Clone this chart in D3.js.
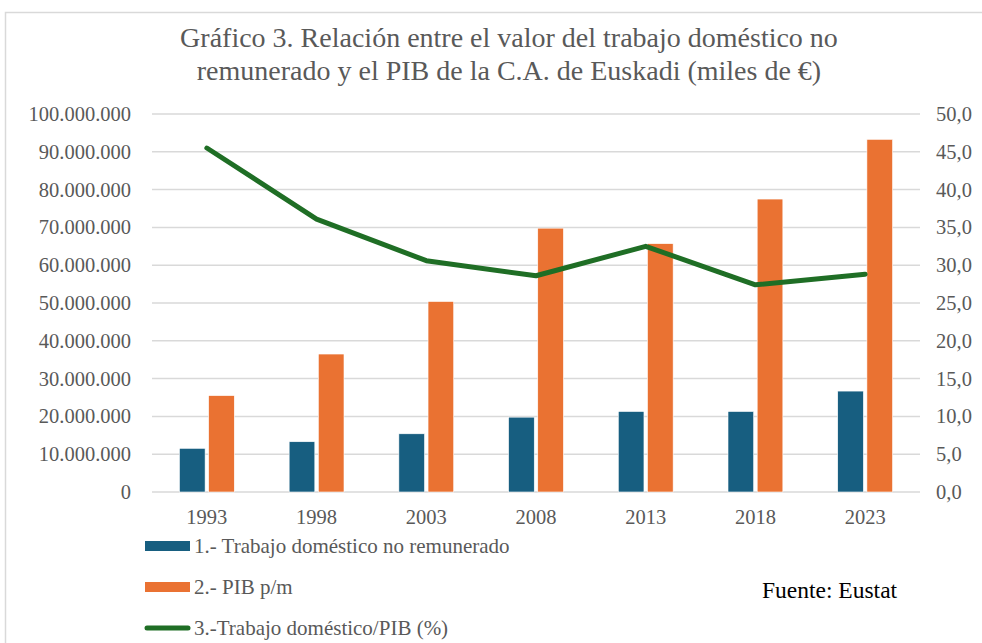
<!DOCTYPE html>
<html>
<head>
<meta charset="utf-8">
<script src="https://cdn.jsdelivr.net/npm/d3@7"></script>
<style>
  body { margin: 0; background: #fff; }
  svg { display: block; }
  text { font-family: "Liberation Serif", "Times New Roman", serif; }
</style>
</head>
<body>
<svg id="chart" width="982" height="643"></svg>
<script>
// data
const years = ["1993", "1998", "2003", "2008", "2013", "2018", "2023"];
const trabajo = [11560000, 13300000, 15400000, 19800000, 21300000, 21300000, 26700000];
const pib = [25500000, 36500000, 50400000, 69800000, 65700000, 77500000, 93300000];
const ratio = [45.5, 36.1, 30.6, 28.6, 32.5, 27.4, 28.8];
const leftTicks = [0, 10e6, 20e6, 30e6, 40e6, 50e6, 60e6, 70e6, 80e6, 90e6, 100e6];
const rightTicks = [0, 5, 10, 15, 20, 25, 30, 35, 40, 45, 50];
const titleLines = ["Gráfico 3. Relación entre el valor del trabajo doméstico no",
                    "remunerado y el PIB de la C.A. de Euskadi (miles de €)"];
const legendLabels = ["1.- Trabajo doméstico no remunerado", "2.- PIB p/m", "3.-Trabajo doméstico/PIB (%)"];

const colors = { trabajo: "#175e80", pib: "#ea7232", ratio: "#1f6e25", grid: "#d9d9d9", text: "#595959" };
const serif = "'Liberation Serif', 'Times New Roman', serif";

const svg = d3.select("#chart");
const plot = { left: 152, right: 920, top: 114, bottom: 492 };

const esLocale = d3.formatLocale({ decimal: ",", thousands: ".", grouping: [3], currency: ["", " €"] });
const fmtLeft = esLocale.format(",.0f");
const fmtRight = esLocale.format(".1f");

// outer frame
svg.append("rect")
    .attr("x", 5.5).attr("y", 12.5)
    .attr("width", 990).attr("height", 650)
    .attr("fill", "none")
    .attr("stroke", "#d9d9d9")
    .attr("stroke-width", 1.5);

// title
svg.append("g").selectAll("text")
    .data(titleLines)
    .enter()
    .append("text")
    .attr("x", 509)
    .attr("y", (d, i) => 47 + i * 33)
    .attr("text-anchor", "middle")
    .attr("fill", colors.text)
    .style("font-size", "28px")
    .text(d => d);

const x = d3.scaleBand()
    .domain(years)
    .range([plot.left, plot.right])
    .paddingInner(0.5)
    .paddingOuter(0.25);

const xSub = d3.scaleBand()
    .domain(["trabajo", "pib"])
    .range([0, x.bandwidth()])
    .paddingInner(0.12);

const yLeft = d3.scaleLinear().domain([0, 100e6]).range([plot.bottom, plot.top]);
const yRight = d3.scaleLinear().domain([0, 50]).range([plot.bottom, plot.top]);

// gridlines
svg.append("g").selectAll("line")
    .data(leftTicks)
    .enter()
    .append("line")
    .attr("x1", plot.left).attr("x2", plot.right)
    .attr("y1", d => yLeft(d)).attr("y2", d => yLeft(d))
    .attr("stroke", colors.grid)
    .attr("stroke-width", 1.5);

function styleAxis(g) {
    g.attr("font-family", serif).attr("font-size", 20.5);
    g.select(".domain").remove();
    g.selectAll("text")
        .attr("fill", colors.text)
        .style("font-family", serif)
        .style("font-size", "20.5px");
}

// left axis
svg.append("g")
    .attr("transform", "translate(" + (plot.left - 21) + ",0)")
    .call(d3.axisLeft(yLeft).tickValues(leftTicks).tickFormat(fmtLeft).tickSize(0).tickPadding(0))
    .call(styleAxis);

// right axis
svg.append("g")
    .attr("transform", "translate(" + (plot.right + 16) + ",0)")
    .call(d3.axisRight(yRight).tickValues(rightTicks).tickFormat(fmtRight).tickSize(0).tickPadding(0))
    .call(styleAxis);

// x axis
svg.append("g")
    .attr("transform", "translate(0," + plot.bottom + ")")
    .call(d3.axisBottom(x).tickSize(0).tickPadding(17))
    .call(styleAxis);

// bars
const rows = years.map((y, i) => ({ year: y, trabajo: trabajo[i], pib: pib[i] }));
const groups = svg.append("g").selectAll("g")
    .data(rows)
    .enter()
    .append("g")
    .attr("transform", d => "translate(" + x(d.year) + ",0)");

groups.selectAll("rect")
    .data(d => ["trabajo", "pib"].map(k => ({ key: k, value: d[k] })))
    .enter()
    .append("rect")
    .attr("x", d => xSub(d.key))
    .attr("width", xSub.bandwidth())
    .attr("y", d => yLeft(d.value))
    .attr("height", d => plot.bottom - yLeft(d.value))
    .attr("fill", d => colors[d.key])
    .attr("stroke", "#fff")
    .attr("stroke-width", 0.6);

// ratio line
const line = d3.line()
    .x((d, i) => x(years[i]) + x.bandwidth() / 2)
    .y(d => yRight(d));

svg.append("path")
    .datum(ratio)
    .attr("d", line)
    .attr("fill", "none")
    .attr("stroke", colors.ratio)
    .attr("stroke-width", 5)
    .attr("stroke-linejoin", "round")
    .attr("stroke-linecap", "round");

// legend
const legend = svg.append("g").attr("transform", "translate(145,0)");
const legendY = [546, 587, 628];
legendLabels.forEach((label, i) => {
    const g = legend.append("g").attr("transform", "translate(0," + legendY[i] + ")");
    if (i < 2) {
        g.append("rect")
            .attr("x", 0).attr("y", -5)
            .attr("width", 45).attr("height", 10)
            .attr("fill", i === 0 ? colors.trabajo : colors.pib);
    } else {
        g.append("line")
            .attr("x1", 2).attr("x2", 43)
            .attr("y1", 0).attr("y2", 0)
            .attr("stroke", colors.ratio)
            .attr("stroke-width", 5)
            .attr("stroke-linecap", "round");
    }
    g.append("text")
        .attr("x", 49)
        .attr("y", 7)
        .attr("fill", colors.text)
        .style("font-size", "21px")
        .text(label);
});

// source
svg.append("text")
    .attr("x", 762)
    .attr("y", 598)
    .attr("fill", "#000")
    .style("font-size", "23.5px")
    .text("Fuente: Eustat");
</script>
</body>
</html>
